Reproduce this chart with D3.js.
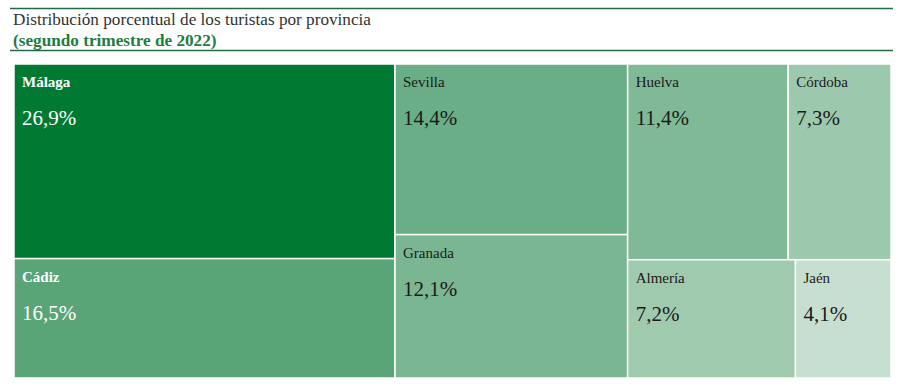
<!DOCTYPE html>
<html>
<head>
<meta charset="utf-8">
<script src="https://cdn.jsdelivr.net/npm/d3@7"></script>
<style>
  body { margin: 0; background: #fff; }
</style>
</head>
<body>
<div id="chart"></div>
<script>
// provinces, share of tourists (%), and the block each one sits in
const provinces = ['Málaga', 'Cádiz', 'Sevilla', 'Granada', 'Huelva', 'Córdoba', 'Almería', 'Jaén'];
const shares = [26.9, 16.5, 14.4, 12.1, 11.4, 7.3, 7.2, 4.1];
const groups = ['A', 'A', 'B', 'B', 'C1', 'C1', 'C2', 'C2'];
const colors = ['#007a33', '#5aa577', '#69ae86', '#7ab692', '#7fb996', '#9cc9ad', '#9fcaae', '#c7dfd1'];

const width = 899, height = 388;
const margin = { top: 64, right: 8, bottom: 10, left: 14 };
const serif = "'Liberation Serif', 'Times New Roman', Tinos, 'DejaVu Serif', serif";

const svg = d3.select('#chart').append('svg')
  .attr('width', width)
  .attr('height', height)
  .style('font-family', serif);

// header
svg.append('line')
  .attr('x1', 10).attr('x2', 893).attr('y1', 8.5).attr('y2', 8.5)
  .attr('stroke', '#236b45').attr('stroke-width', 1.3);
svg.append('line')
  .attr('x1', 10).attr('x2', 893).attr('y1', 50.5).attr('y2', 50.5)
  .attr('stroke', '#236b45').attr('stroke-width', 1.3);
svg.append('text')
  .attr('x', 13).attr('y', 25)
  .attr('font-size', 17.2).attr('fill', '#333')
  .text('Distribución porcentual de los turistas por provincia');
svg.append('text')
  .attr('x', 13).attr('y', 45.5)
  .attr('font-size', 17.2).attr('font-weight', 'bold').attr('fill', '#1e7d3f')
  .text('(segundo trimestre de 2022)');

// hierarchy: columns -> (rows) -> provinces
const leaves = provinces.map((name, i) => ({ name, value: shares[i], group: groups[i], color: colors[i] }));
const tree = {
  name: 'root',
  children: [
    { name: 'A', children: leaves.filter(d => d.group === 'A') },
    { name: 'B', children: leaves.filter(d => d.group === 'B') },
    { name: 'C', children: [
      { name: 'C1', children: leaves.filter(d => d.group === 'C1') },
      { name: 'C2', children: leaves.filter(d => d.group === 'C2') }
    ] }
  ]
};

const root = d3.hierarchy(tree).sum(d => d.value || 0);

d3.treemap()
  .size([width - margin.left - margin.right, height - margin.top - margin.bottom])
  .tile((node, x0, y0, x1, y1) =>
    (node.depth % 2 === 0 ? d3.treemapDice : d3.treemapSlice)(node, x0, y0, x1, y1))(root);

const cell = svg.append('g')
  .attr('transform', `translate(${margin.left}, ${margin.top})`)
  .selectAll('g')
  .data(root.leaves())
  .enter().append('g')
  .attr('transform', d => `translate(${d.x0}, ${d.y0})`);

cell.append('rect')
  .attr('width', d => d.x1 - d.x0)
  .attr('height', d => d.y1 - d.y0)
  .attr('fill', d => d.data.color)
  .attr('stroke', '#fff')
  .attr('stroke-width', 1.5);

const dark = d => d.data.value > 15;

cell.append('text')
  .attr('x', 8).attr('y', 23)
  .attr('font-size', 15)
  .attr('font-weight', d => dark(d) ? 'bold' : 'normal')
  .attr('fill', d => dark(d) ? '#fff' : '#1a1a1a')
  .text(d => d.data.name);

cell.append('text')
  .attr('x', 8).attr('y', 61)
  .attr('font-size', 21)
  .attr('fill', d => dark(d) ? '#fff' : '#1a1a1a')
  .text(d => d3.format('.1f')(d.data.value).replace('.', ',') + '%');
</script>
</body>
</html>
